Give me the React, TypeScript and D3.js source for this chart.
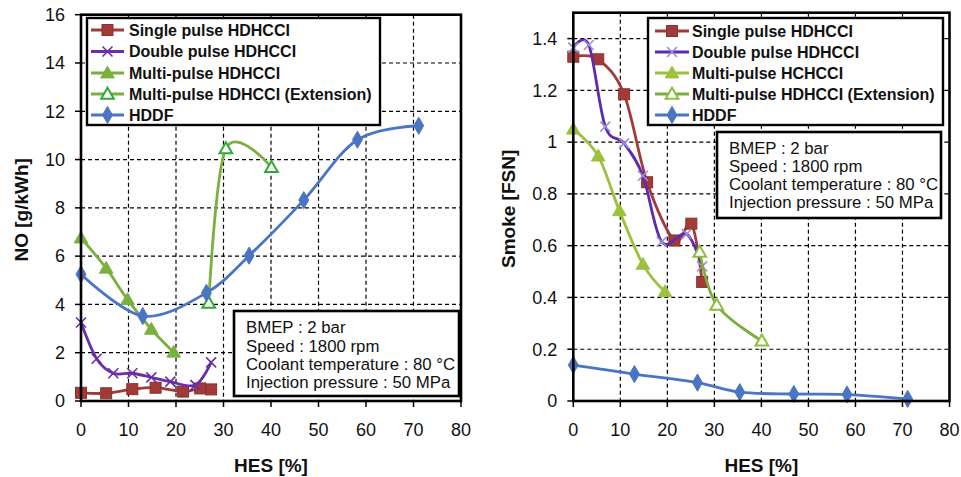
import React from "react";
import * as d3 from "d3";

// ---------- data ----------
const hesSingle = [0, 5.3, 10.8, 15.7, 21.5, 25.1, 27.4];
const noSingle = [0.34, 0.32, 0.49, 0.55, 0.39, 0.52, 0.48];
const smokeSingle = [1.33, 1.32, 1.185, 0.845, 0.62, 0.685, 0.46];

const hesDouble = [0, 3.3, 6.8, 10.8, 14.8, 18.8, 24.1, 27.4];
const noDouble = [3.25, 1.75, 1.15, 1.15, 0.98, 0.8, 0.66, 1.6];
const smokeDouble = [1.365, 1.375, 1.06, 0.995, 0.87, 0.615, 0.645, 0.52];

const hesMulti = [0, 5.3, 9.8, 14.8, 19.5];
const noMulti = [6.75, 5.5, 4.2, 2.97, 2.02];
const smokeMulti = [1.05, 0.946, 0.735, 0.528, 0.422];

const hesExt = [26.9, 30.5, 40.1];
const noExt = [4.06, 10.45, 9.68];
const smokeExt = [0.575, 0.371, 0.232];

const hesHDDF = [0, 13, 26.4, 35.4, 46.9, 58.2, 71.1];
const noHDDF = [5.25, 3.52, 4.48, 6.02, 8.32, 10.82, 11.4];
const smokeHDDF = [0.139, 0.104, 0.071, 0.034, 0.027, 0.025, 0.008];

const xTicks = [0, 10, 20, 30, 40, 50, 60, 70, 80];
const noTicks = [0, 2, 4, 6, 8, 10, 12, 14, 16];
const smokeTicks = [0, 0.2, 0.4, 0.6, 0.8, 1, 1.2, 1.4];

const legendLeft = [
  "Single pulse HDHCCI",
  "Double pulse HDHCCI",
  "Multi-pulse HDHCCI",
  "Multi-pulse HDHCCI (Extension)",
  "HDDF",
];
const legendRight = [
  "Single pulse HDHCCI",
  "Double pulse HDHCCI",
  "Multi-pulse HCHCCI",
  "Multi-pulse HDHCCI (Extension)",
  "HDDF",
];
const noteLines = [
  "BMEP : 2 bar",
  "Speed : 1800 rpm",
  "Coolant temperature : 80 °C",
  "Injection pressure : 50 MPa",
];

type MarkerKind = "square" | "x" | "tri" | "triOpen" | "diamond";

interface SeriesStyle {
  line: string;
  marker: string;
  kind: MarkerKind;
}

const stylesLeft: SeriesStyle[] = [
  { line: "#A23B38", marker: "#A23B38", kind: "square" },
  { line: "#6A2EA8", marker: "#6A2EA8", kind: "x" },
  { line: "#7BB03E", marker: "#7BB03E", kind: "tri" },
  { line: "#7BB03E", marker: "#2EAA36", kind: "triOpen" },
  { line: "#4A74C4", marker: "#4A74C4", kind: "diamond" },
];
const stylesRight: SeriesStyle[] = [
  { line: "#A23B38", marker: "#A23B38", kind: "square" },
  { line: "#5E2AB0", marker: "#9C8ED8", kind: "x" },
  { line: "#9DC13C", marker: "#9DC13C", kind: "tri" },
  { line: "#78AE3E", marker: "#8CC03C", kind: "triOpen" },
  { line: "#4A74C4", marker: "#4A74C4", kind: "diamond" },
];

const FONT = "'Liberation Sans', Arial, sans-serif";

function Marker({ kind, color, x, y }: { kind: MarkerKind; color: string; x: number; y: number }) {
  if (kind === "square") {
    return <rect x={x - 5.5} y={y - 5.5} width={11} height={11} fill={color} stroke={d3.color(color)!.darker(0.5).toString()} strokeWidth={1} />;
  }
  if (kind === "x") {
    const s = 5;
    return (
      <g stroke={color} strokeWidth={1.6}>
        <line x1={x - s} y1={y - s} x2={x + s} y2={y + s} />
        <line x1={x - s} y1={y + s} x2={x + s} y2={y - s} />
      </g>
    );
  }
  if (kind === "tri" || kind === "triOpen") {
    const p = d3.symbol().type(d3.symbolTriangle).size(kind === "tri" ? 80 : 70)()!;
    return (
      <path
        d={p}
        transform={`translate(${x},${y + 1})`}
        fill={kind === "tri" ? color : "#fff"}
        stroke={color}
        strokeWidth={kind === "tri" ? 1 : 2}
      />
    );
  }
  const p = d3.symbol().type(d3.symbolDiamond).size(85)()!;
  return <path d={p} transform={`translate(${x},${y})`} fill={color} stroke={color} strokeWidth={1} />;
}

interface PanelProps {
  x0: number;
  x1: number;
  yBottom: number;
  yTop: number;
  yMax: number;
  yTicks: number[];
  yFmt: (v: number) => string;
  yLabel: string;
  yLabelX: number;
  series: { xs: number[]; ys: number[] }[];
  styles: SeriesStyle[];
  legend: string[];
  legendBox: [number, number, number, number];
  legendLineX: [number, number];
  legendTextX: number;
  legendRowY: number[];
  noteBox: [number, number, number, number];
  noteTextX: number;
  noteRowY: number[];
}

function Panel(p: PanelProps) {
  const xs = d3.scaleLinear().domain([0, 80]).range([p.x0, p.x1]);
  const ys = d3.scaleLinear().domain([0, p.yMax]).range([p.yBottom, p.yTop]);
  const line = d3
    .line<[number, number]>()
    .x((d) => xs(d[0]))
    .y((d) => ys(d[1]))
    .curve(d3.curveCardinal.tension(0));
  const dash = "4,3";
  return (
    <g>
      {/* grid */}
      {xTicks.slice(1, -1).map((t) => (
        <line key={"gx" + t} x1={xs(t)} x2={xs(t)} y1={p.yTop} y2={p.yBottom} stroke="#000" strokeWidth={1.2} strokeDasharray={dash} />
      ))}
      {p.yTicks.slice(1).filter((t) => t < p.yMax).map((t) => (
        <line key={"gy" + t} x1={p.x0} x2={p.x1} y1={ys(t)} y2={ys(t)} stroke="#000" strokeWidth={1.2} strokeDasharray={dash} />
      ))}
      {/* ticks */}
      {xTicks.map((t) => (
        <g key={"tx" + t}>
          <line x1={xs(t)} x2={xs(t)} y1={p.yBottom} y2={p.yBottom + 6} stroke="#000" strokeWidth={1.5} />
          <text x={xs(t)} y={p.yBottom + 35} textAnchor="middle" fontFamily={FONT} fontSize={18} fill="#111">
            {t}
          </text>
        </g>
      ))}
      {p.yTicks.map((t) => (
        <g key={"ty" + t}>
          <line x1={p.x0 - 6} x2={p.x0} y1={ys(t)} y2={ys(t)} stroke="#000" strokeWidth={1.5} />
          <text x={p.x0 - 16} y={ys(t)} dy="0.35em" textAnchor="end" fontFamily={FONT} fontSize={18} fill="#111">
            {p.yFmt(t)}
          </text>
        </g>
      ))}
      {/* series */}
      {p.series.map((s, i) => {
        const pts = s.xs.map((x, j) => [x, s.ys[j]] as [number, number]);
        return (
          <g key={"s" + i}>
            <path d={line(pts)!} fill="none" stroke={p.styles[i].line} strokeWidth={2.8} />
            {pts.map((d, j) => (
              <Marker key={j} kind={p.styles[i].kind} color={p.styles[i].marker} x={xs(d[0])} y={ys(d[1])} />
            ))}
          </g>
        );
      })}
      {/* frame */}
      <rect x={p.x0} y={p.yTop} width={p.x1 - p.x0} height={p.yBottom - p.yTop} fill="none" stroke="#000" strokeWidth={2.6} />
      {/* legend */}
      <rect x={p.legendBox[0]} y={p.legendBox[1]} width={p.legendBox[2]} height={p.legendBox[3]} fill="#fff" stroke="#000" strokeWidth={2.4} />
      {p.legend.map((name, i) => {
        const y = p.legendRowY[i];
        const st = p.styles[i];
        const mx = (p.legendLineX[0] + p.legendLineX[1]) / 2;
        return (
          <g key={"lg" + i}>
            <line x1={p.legendLineX[0]} x2={p.legendLineX[1]} y1={y} y2={y} stroke={st.line} strokeWidth={2.8} />
            <Marker kind={st.kind} color={st.marker} x={mx} y={y} />
            <text x={p.legendTextX} y={y} dy="0.36em" fontFamily={FONT} fontWeight="bold" fontSize={16} fill="#111">
              {name}
            </text>
          </g>
        );
      })}
      {/* note box */}
      <rect x={p.noteBox[0]} y={p.noteBox[1]} width={p.noteBox[2]} height={p.noteBox[3]} fill="#fff" stroke="#000" strokeWidth={2.6} />
      {noteLines.map((t, i) => (
        <text key={"n" + i} x={p.noteTextX} y={p.noteRowY[i]} dy="0.36em" fontFamily={FONT} fontSize={16.8} fill="#111">
          {t}
        </text>
      ))}
      {/* axis labels */}
      <text
        transform={`translate(${p.yLabelX},${(p.yTop + p.yBottom) / 2 + 2}) rotate(-90)`}
        textAnchor="middle"
        dy="0.35em"
        fontFamily={FONT}
        fontWeight="bold"
        fontSize={19}
        fill="#111"
      >
        {p.yLabel}
      </text>
      <text x={(p.x0 + p.x1) / 2} y={465} dy="0.35em" textAnchor="middle" fontFamily={FONT} fontWeight="bold" fontSize={19} fill="#111">
        HES [%]
      </text>
    </g>
  );
}

export default function App() {
  const rows = [30, 51.5, 73, 94, 115];
  return (
    <div style={{ position: "absolute", left: 0, top: 0 }}>
      <svg width={961} height={477} style={{ display: "block", background: "#fff" }}>
        <Panel
          x0={81}
          x1={461}
          yBottom={401}
          yTop={14.7}
          yMax={16}
          yTicks={noTicks}
          yFmt={(v) => String(v)}
          yLabel="NO [g/kWh]"
          yLabelX={21}
          series={[
            { xs: hesSingle, ys: noSingle },
            { xs: hesDouble, ys: noDouble },
            { xs: hesMulti, ys: noMulti },
            { xs: hesExt, ys: noExt },
            { xs: hesHDDF, ys: noHDDF },
          ]}
          styles={stylesLeft}
          legend={legendLeft}
          legendBox={[87, 18, 293, 107]}
          legendLineX={[91, 124]}
          legendTextX={129}
          legendRowY={rows}
          noteBox={[234, 311, 225, 85]}
          noteTextX={246}
          noteRowY={[327, 346, 364, 382]}
        />
        <Panel
          x0={573.3}
          x1={949.5}
          yBottom={401}
          yTop={12.7}
          yMax={1.5}
          yTicks={smokeTicks}
          yFmt={(v) => String(+v.toFixed(1))}
          yLabel="Smoke [FSN]"
          yLabelX={508}
          series={[
            { xs: hesSingle, ys: smokeSingle },
            { xs: hesDouble, ys: smokeDouble },
            { xs: hesMulti, ys: smokeMulti },
            { xs: hesExt, ys: smokeExt },
            { xs: hesHDDF, ys: smokeHDDF },
          ]}
          styles={stylesRight}
          legend={legendRight}
          legendBox={[648, 18, 295, 107]}
          legendLineX={[655, 689]}
          legendTextX={692}
          legendRowY={[31, 52, 73, 94, 115]}
          noteBox={[717, 132, 224, 86]}
          noteTextX={729}
          noteRowY={[148, 166, 184, 202]}
        />
      </svg>
    </div>
  );
}
